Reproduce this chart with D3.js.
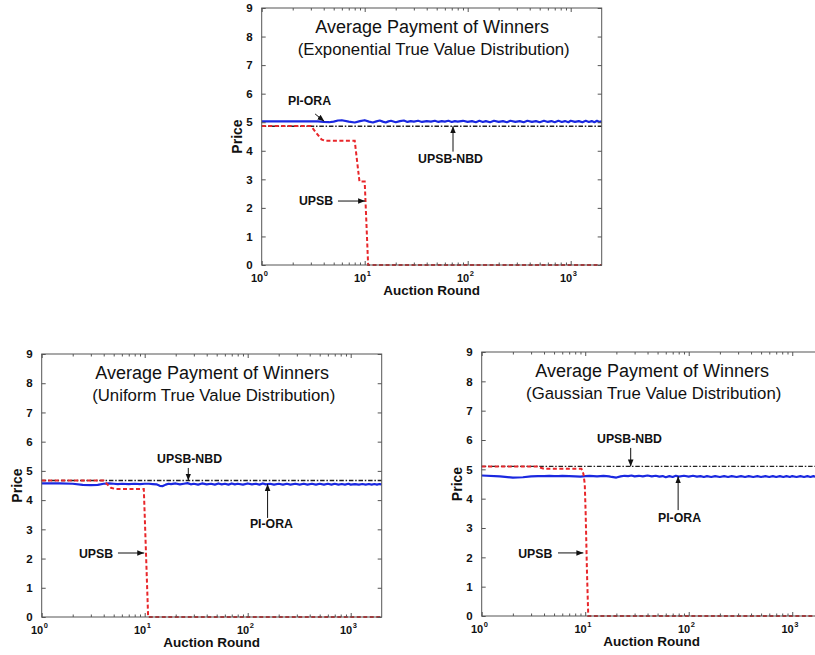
<!DOCTYPE html>
<html><head><meta charset="utf-8">
<script src="https://cdn.jsdelivr.net/npm/d3@7"></script>
<style>
body{margin:0;background:#fff}
svg{display:block}
text{font-family:"Liberation Sans",Arial,Helvetica,sans-serif;fill:#111}
</style>
</head><body>
<svg id="c" width="815" height="655"></svg>
<script>
// ---------------- DATA ----------------
const xDomain = [1, 2000];
const yDomain = [0, 9];
const yTicks = [0, 1, 2, 3, 4, 5, 6, 7, 8, 9];
const xMajorTicks = [1, 10, 100, 1000];
const xTickExponents = ["0", "1", "2", "3"];

const blueRounds = [1, 1.5, 2, 2.5, 3, 3.5, 4, 4.5, 5, 5.5, 6, 7, 8, 9, 10, 11, 12, 13, 14, 15, 16, 17, 18, 20, 22, 24, 26, 28, 30, 33, 36, 40, 44, 48, 52, 56, 60, 65, 70, 75, 80, 90, 100, 110, 120, 130, 140, 150, 165, 180, 200, 220, 240, 260, 290, 320, 350, 380, 420, 460, 500, 550, 600, 650, 700, 760, 820, 880, 950, 1000, 1100, 1200, 1300, 1400, 1500, 1600, 1700, 1800, 1900, 2000];

const piOraExp = [5.03, 5.03, 5.03, 5.03, 5.03, 5.03, 5.01, 5.00, 5.02, 5.06, 5.07, 5.02, 4.99, 5.04, 5.07, 5.02, 4.99, 5.03, 5.06, 5.02, 4.99, 5.03, 5.05, 5.00, 5.04, 5.06, 5.01, 5.04, 5.02, 5.05, 5.01, 5.04, 5.02, 5.05, 5.01, 5.04, 5.02, 5.05, 5.01, 5.04, 5.02, 5.05, 5.01, 5.04, 5.00, 5.05, 5.01, 5.04, 5.00, 5.05, 5.01, 5.04, 5.00, 5.05, 5.01, 5.04, 5.00, 5.05, 5.01, 5.04, 5.00, 5.05, 5.01, 5.04, 5.00, 5.05, 5.01, 5.04, 5.00, 5.05, 5.01, 5.04, 5.00, 5.05, 5.01, 5.04, 5.00, 5.05, 5.01, 5.03];

const piOraUni = [4.57, 4.57, 4.56, 4.52, 4.51, 4.52, 4.56, 4.57, 4.56, 4.55, 4.56, 4.55, 4.56, 4.55, 4.56, 4.56, 4.55, 4.54, 4.49, 4.48, 4.53, 4.56, 4.55, 4.57, 4.54, 4.56, 4.58, 4.54, 4.56, 4.53, 4.57, 4.54, 4.56, 4.53, 4.57, 4.54, 4.56, 4.53, 4.57, 4.54, 4.56, 4.53, 4.57, 4.54, 4.56, 4.53, 4.57, 4.54, 4.56, 4.53, 4.56, 4.53, 4.56, 4.53, 4.56, 4.53, 4.56, 4.53, 4.56, 4.53, 4.56, 4.53, 4.56, 4.53, 4.56, 4.53, 4.55, 4.53, 4.56, 4.53, 4.55, 4.53, 4.55, 4.53, 4.55, 4.53, 4.55, 4.53, 4.55, 4.54];

const piOraGau = [4.79, 4.76, 4.72, 4.73, 4.76, 4.77, 4.77, 4.78, 4.77, 4.77, 4.78, 4.77, 4.76, 4.75, 4.77, 4.78, 4.77, 4.76, 4.77, 4.78, 4.77, 4.76, 4.74, 4.72, 4.76, 4.78, 4.77, 4.79, 4.76, 4.78, 4.76, 4.79, 4.76, 4.78, 4.75, 4.77, 4.73, 4.77, 4.74, 4.78, 4.75, 4.78, 4.75, 4.78, 4.75, 4.77, 4.74, 4.77, 4.74, 4.77, 4.74, 4.77, 4.74, 4.77, 4.74, 4.77, 4.74, 4.77, 4.74, 4.77, 4.74, 4.77, 4.74, 4.77, 4.74, 4.77, 4.74, 4.77, 4.74, 4.77, 4.74, 4.77, 4.74, 4.77, 4.74, 4.77, 4.74, 4.77, 4.74, 4.76];

const nbdRounds = [1, 2000];
const nbdExp = [4.86, 4.86];
const nbdUni = [4.67, 4.67];
const nbdGau = [5.10, 5.10];

const upsbExpRounds = [1, 3, 3.4, 3.8, 4.1, 8, 8.9, 10, 10.8, 2000];
const upsbExp = [4.87, 4.87, 4.62, 4.40, 4.35, 4.35, 2.92, 2.92, 0, 0];
const upsbUniRounds = [1, 4, 4.3, 4.7, 5.2, 9.8, 10.0, 10.8, 2000];
const upsbUni = [4.67, 4.67, 4.55, 4.42, 4.38, 4.38, 3.5, 0, 0];
const upsbGauRounds = [1, 3.4, 4, 9.2, 9.6, 9.9, 10.1, 10.4, 10.7, 2000];
const upsbGau = [5.10, 5.10, 5.02, 5.02, 4.85, 4.5, 3.5, 1.5, 0, 0];

const titleLine1 = ["Average Payment of Winners", "Average Payment of Winners", "Average Payment of Winners"];
const titleLine2 = ["(Exponential True Value Distribution)", "(Uniform True Value Distribution)", "(Gaussian True Value Distribution)"];
const xLabel = "Auction Round";
const yLabel = "Price";

// annotations: [label, textRound, textPrice, tailRound, tailPrice, headRound, headPrice]
const notesExp = [
  ["PI-ORA", 1.80, 5.60, 3.3, 5.29, 4.05, 5.03],
  ["UPSB-NBD", 33, 3.58, 72, 3.97, 72, 4.86],
  ["UPSB", 2.3, 2.10, 5.5, 2.24, 10.1, 2.24]
];
const notesUni = [
  ["UPSB-NBD", 13.2, 5.27, 26.5, 5.10, 26.5, 4.67],
  ["PI-ORA", 105, 3.05, 156, 3.39, 156, 4.55],
  ["UPSB", 2.3, 2.02, 5.5, 2.19, 9.9, 2.19]
];
const notesGau = [
  ["UPSB-NBD", 13, 5.90, 27.5, 5.73, 27.5, 5.10],
  ["PI-ORA", 50.5, 3.20, 79, 3.61, 79, 4.76],
  ["UPSB", 2.25, 1.98, 5.46, 2.15, 9.6, 2.15]
];

// ---------------- LAYOUT ----------------
const panels = [
  {left: 261.7, top: 8, width: 340, height: 257, blue: piOraExp, nbd: nbdExp, upsbR: upsbExpRounds, upsb: upsbExp, notes: notesExp, t: 0},
  {left: 41.7, top: 354, width: 340, height: 263, blue: piOraUni, nbd: nbdUni, upsbR: upsbUniRounds, upsb: upsbUni, notes: notesUni, t: 1},
  {left: 481.7, top: 352, width: 341.7, height: 264, blue: piOraGau, nbd: nbdGau, upsbR: upsbGauRounds, upsb: upsbGau, notes: notesGau, t: 2}
];

const svg = d3.select("#c");
const defs = svg.append("defs");
defs.append("marker").attr("id", "ah").attr("viewBox", "0 0 10 10")
  .attr("refX", 10).attr("refY", 5).attr("markerWidth", 7).attr("markerHeight", 7)
  .attr("markerUnits", "userSpaceOnUse").attr("orient", "auto")
  .append("path").attr("d", "M0,1 L10,5 L0,9 Z").attr("fill", "#111");

const minorTicks = [];
for (let d = 0; d <= 3; d++) for (let k = 2; k <= 9; k++) { const v = k * Math.pow(10, d); if (v < 2000) minorTicks.push(v); }

panels.forEach(p => {
  const x = d3.scaleLog().domain(xDomain).range([p.left, p.left + p.width]);
  const y = d3.scaleLinear().domain(yDomain).range([p.top + p.height, p.top]);
  const g = svg.append("g");
  const bottom = p.top + p.height, right = p.left + p.width;

  // lines
  const line = d3.line().x(d => x(d[0])).y(d => y(d[1]));
  g.append("path").datum(blueRounds.map((r, i) => [r, p.blue[i]]))
    .attr("d", line).attr("fill", "none").attr("stroke", "#1a28e0").attr("stroke-width", 2.2).attr("stroke-linejoin", "round");
  g.append("path").datum(nbdRounds.map((r, i) => [r, p.nbd[i]]))
    .attr("d", line).attr("fill", "none").attr("stroke", "#222").attr("stroke-width", 1.4)
    .attr("stroke-dasharray", "4.5,1.8,1.5,1.8");
  g.append("path").datum(p.upsbR.map((r, i) => [r, p.upsb[i]]))
    .attr("d", line).attr("fill", "none").attr("stroke", "#e8262a").attr("stroke-width", 2)
    .attr("stroke-dasharray", "4,2.5");

  // box
  g.append("rect").attr("x", p.left).attr("y", p.top).attr("width", p.width).attr("height", p.height)
    .attr("fill", "none").attr("stroke", "#555").attr("stroke-width", 1);

  // y ticks
  const yAx = d3.axisLeft(y).tickValues(yTicks).tickSize(-4).tickPadding(9).tickFormat(d3.format("d"));
  const ya = g.append("g").attr("transform", `translate(${p.left},0)`).call(yAx);
  ya.select(".domain").remove();
  ya.selectAll("line").attr("stroke", "#555");
  ya.selectAll("text").attr("font-size", 11.5).attr("font-weight", "bold").attr("fill", "#222")
    .attr("font-family", '"Liberation Sans",Arial,sans-serif');
  const yAxR = d3.axisRight(y).tickValues(yTicks).tickSize(-4).tickFormat("");
  const yr = g.append("g").attr("transform", `translate(${right},0)`).call(yAxR);
  yr.select(".domain").remove();
  yr.selectAll("line").attr("stroke", "#555");

  // x ticks (major + minor), bottom and top, inward
  const xb = g.append("g").attr("transform", `translate(0,${bottom})`)
    .call(d3.axisBottom(x).tickValues(xMajorTicks).tickSize(-4).tickFormat(""));
  xb.select(".domain").remove(); xb.selectAll("line").attr("stroke", "#555");
  const xbm = g.append("g").attr("transform", `translate(0,${bottom})`)
    .call(d3.axisBottom(x).tickValues(minorTicks).tickSize(-2.5).tickFormat(""));
  xbm.select(".domain").remove(); xbm.selectAll("line").attr("stroke", "#555");
  const xt = g.append("g").attr("transform", `translate(0,${p.top})`)
    .call(d3.axisTop(x).tickValues(xMajorTicks).tickSize(-4).tickFormat(""));
  xt.select(".domain").remove(); xt.selectAll("line").attr("stroke", "#555");
  const xtm = g.append("g").attr("transform", `translate(0,${p.top})`)
    .call(d3.axisTop(x).tickValues(minorTicks).tickSize(-2.5).tickFormat(""));
  xtm.select(".domain").remove(); xtm.selectAll("line").attr("stroke", "#555");

  // x tick labels 10^n
  xMajorTicks.forEach((v, i) => {
    const tx = x(v);
    g.append("text").attr("x", tx + 1.5).attr("y", bottom + 17).attr("text-anchor", "end")
      .attr("font-size", 11).attr("font-weight", "bold").attr("fill", "#222").text("10");
    g.append("text").attr("x", tx + 2).attr("y", bottom + 11).attr("text-anchor", "start")
      .attr("font-size", 7.5).attr("font-weight", "bold").attr("fill", "#222").text(xTickExponents[i]);
  });

  // axis labels
  g.append("text").attr("x", p.left + 170).attr("y", bottom + 30).attr("text-anchor", "middle")
    .attr("font-size", 13.5).attr("font-weight", "bold").attr("fill", "#222").text(xLabel);
  g.append("text").attr("transform", `translate(${p.left - 20},${p.top + p.height / 2}) rotate(-90)`)
    .attr("text-anchor", "middle").attr("font-size", 14).attr("font-weight", "bold").attr("fill", "#222").text(yLabel);

  // title
  g.append("text").attr("x", p.left + 170.5).attr("y", p.top + 24.5).attr("text-anchor", "middle")
    .attr("font-size", 18).attr("fill", "#222").text(titleLine1[p.t]);
  g.append("text").attr("x", p.left + 172).attr("y", p.top + 46.5).attr("text-anchor", "middle")
    .attr("font-size", 16.8).attr("fill", "#222").text(titleLine2[p.t]);

  // annotations
  p.notes.forEach(n => {
    g.append("text").attr("x", x(n[1])).attr("y", y(n[2])).attr("font-size", 12.3).attr("font-weight", "bold")
      .attr("fill", "#111").text(n[0]);
    g.append("line").attr("x1", x(n[3])).attr("y1", y(n[4])).attr("x2", x(n[5])).attr("y2", y(n[6]))
      .attr("stroke", "#111").attr("stroke-width", 1).attr("marker-end", "url(#ah)");
  });
});
</script>
</body></html>
